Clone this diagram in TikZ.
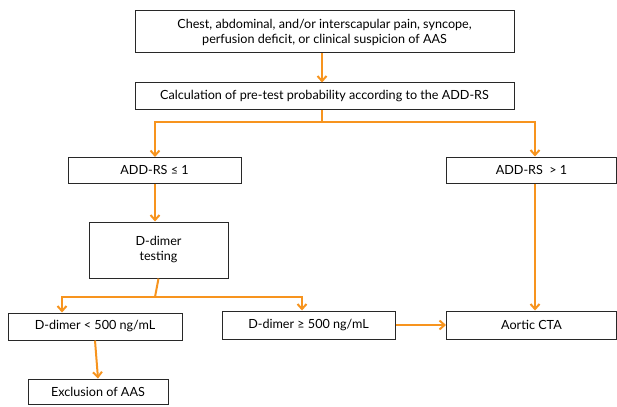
\documentclass[tikz,border=0pt]{standalone}
\usepackage{fontspec}
\setmainfont{Lato}
\usetikzlibrary{arrows.meta}

\definecolor{flowor}{RGB}{247,148,30}
\definecolor{boxline}{RGB}{40,40,40}

\tikzset{
  box/.style={draw=boxline, line width=1pt, fill=white, align=center, inner sep=2pt, font=\fontsize{12.6}{15}\selectfont},
  arr/.style={draw=flowor, line width=2pt, -{Straight Barb[length=5pt,width=9pt]}},
  ln/.style={draw=flowor, line width=2pt}
}

\begin{document}
\begin{tikzpicture}[x=1pt,y=-1pt]
\useasboundingbox (0,0) rectangle (617,406);
\node[box, minimum width=379, minimum height=42] (symptoms) at (324.5,32) {Chest, abdominal, and/or interscapular pain, syncope,\\perfusion deficit, or clinical suspicion of AAS};
\node[box, minimum width=379, minimum height=27] (addrs) at (324.5,96.5) {Calculation of pre-test probability according to the ADD-RS};
\node[box, minimum width=173, minimum height=26] (lowrisk) at (154.5,170) {ADD-RS ≤ 1};
\node[box, minimum width=170, minimum height=26] (highrisk) at (531.5,170) {ADD-RS\ \ > 1};
\node[box, minimum width=139, minimum height=56] (ddimer) at (158.5,250) {D-dimer\\testing};
\node[box, minimum width=174, minimum height=27] (neg) at (95,326.5) {D-dimer < 500 ng/mL};
\node[box, minimum width=173, minimum height=28] (pos) at (308.5,325) {D-dimer ≥ 500 ng/mL};
\node[box, minimum width=170, minimum height=28] (cta) at (531.5,325) {Aortic CTA};
\node[box, minimum width=140, minimum height=25] (excl) at (98,391.5) {Exclusion of AAS};

\draw[arr] (symptoms.south -| 322,0) -- (addrs.north -| 322,0);
\draw[ln] (addrs.south -| 322,0) -- ++(0,12) coordinate (split1);
\draw[arr] (split1) -| (155,157);
\draw[arr] (split1) -| (highrisk.north -| 535,0);
\draw[arr] (lowrisk.south -| 155,0) -- (ddimer.north -| 155,0);
\draw[ln] (ddimer.south) -- (155,297) coordinate (split2);
\draw[arr] (split2) -| ([xshift=-33]neg.north);
\draw[arr] (split2) -| ([xshift=-6.5]pos.north);
\draw[arr] (pos.east) -- (cta.west);
\draw[arr] (highrisk.south -| 535,0) -- (cta.north -| 535,0);
\draw[arr] (neg.south) -- (excl.north);
\end{tikzpicture}
\end{document}
